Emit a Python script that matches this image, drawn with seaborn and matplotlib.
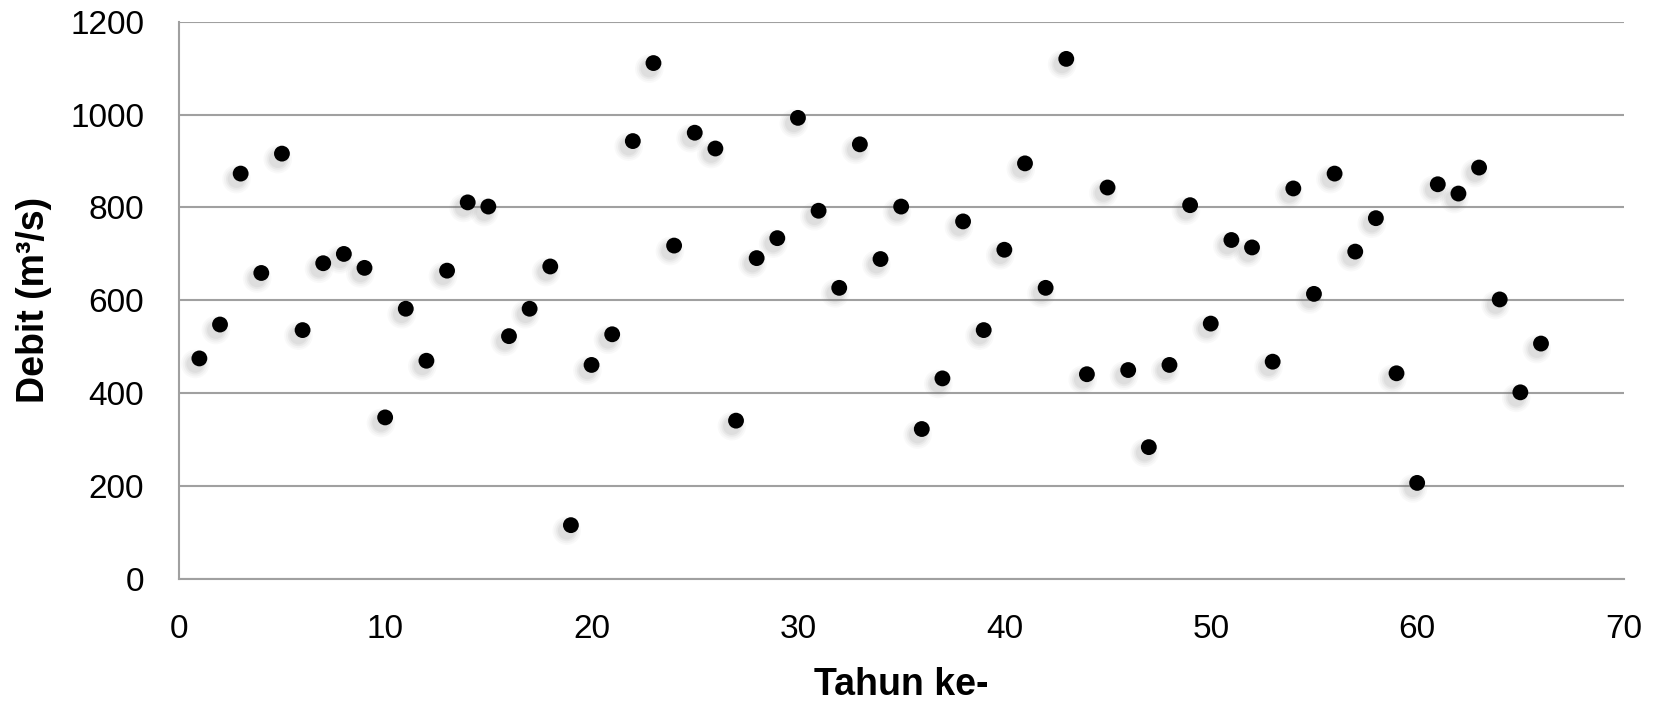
import matplotlib
matplotlib.use('Agg')
import matplotlib.pyplot as plt
import matplotlib.transforms as mtransforms
import seaborn as sns
import pandas as pd

# debit tahunan (m3/s)
tahun = list(range(1, 67))
debit = [475, 548, 873, 659, 916, 536, 680, 700, 670, 348,
         582, 470, 664, 811, 802, 523, 582, 673, 116, 461,
         527, 943, 1111, 718, 961, 927, 341, 691, 734, 993,
         793, 627, 936, 689, 802, 323, 432, 770, 536, 709,
         895, 627, 1120, 441, 843, 450, 284, 461, 805, 550,
         730, 714, 468, 841, 614, 873, 705, 777, 443, 207,
         850, 830, 886, 602, 402, 507]

df = pd.DataFrame({'tahun': tahun, 'debit': debit})

sns.set_style('white')
plt.rcParams['font.family'] = ['Liberation Sans', 'DejaVu Sans']

fig = plt.figure(figsize=(16.55, 7.01), dpi=100)
ax = fig.add_axes([0.108, 0.174, 0.873, 0.795])

# bayangan lembut di bawah titik (beberapa lapis supaya kabur)
for s, a in [(420, 0.04), (320, 0.05), (230, 0.07), (160, 0.08)]:
    off = mtransforms.ScaledTranslation(-3 / 72, -4 / 72, fig.dpi_scale_trans)
    sns.scatterplot(data=df, x='tahun', y='debit', ax=ax, s=s, color='#707070',
                    alpha=a, edgecolor='none', transform=ax.transData + off,
                    legend=False, zorder=2)

sns.scatterplot(data=df, x='tahun', y='debit', ax=ax, s=130, color='black',
                edgecolor='none', legend=False, zorder=3)

ax.set_xlim(0, 70)
ax.set_ylim(0, 1200)
ax.set_xticks(range(0, 71, 10))
ax.set_yticks(range(0, 1201, 200))
ax.yaxis.grid(True, color='#a0a0a0', linewidth=1.5)
ax.xaxis.grid(False)
ax.set_axisbelow(True)

for side in ['top', 'right']:
    ax.spines[side].set_visible(False)
for side in ['left', 'bottom']:
    ax.spines[side].set_color('#a0a0a0')
    ax.spines[side].set_linewidth(1.5)

ax.tick_params(axis='both', which='major', length=8, width=1.5, color='#a0a0a0',
               labelsize=24, labelcolor='black', direction='out')
ax.tick_params(axis='x', pad=17)
ax.tick_params(axis='y', pad=17)

ax.set_xlabel('Tahun ke-', fontsize=27, fontweight='bold', labelpad=16, color='black')
ax.set_ylabel('Debit (m³/s)', fontsize=27, fontweight='bold', labelpad=13, color='black')

fig.savefig('out.png', dpi=100)
